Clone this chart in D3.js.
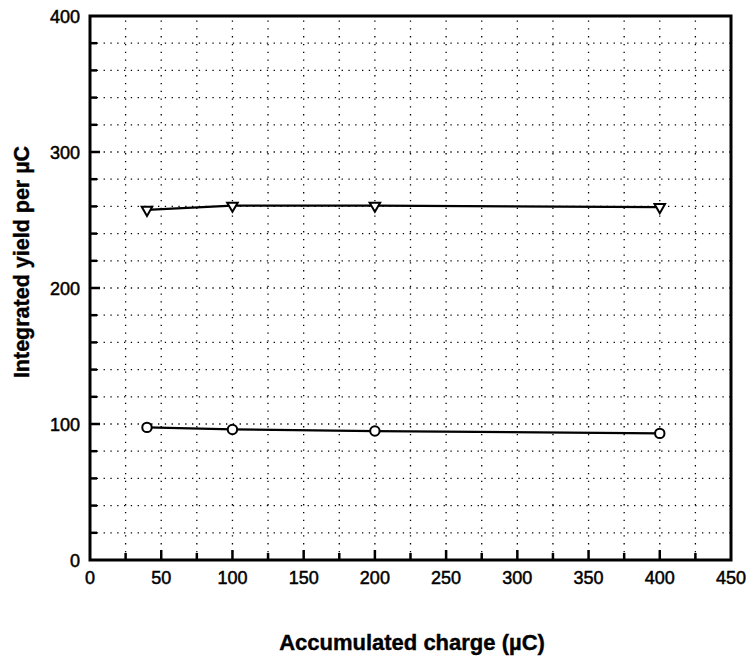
<!DOCTYPE html>
<html>
<head>
<meta charset="utf-8">
<script src="https://cdn.jsdelivr.net/npm/d3@7"></script>
<style>
  body { margin: 0; background: #fff; }
  text { font-family: "Liberation Sans", Arial, sans-serif; fill: #000; }
</style>
</head>
<body>
<script>
// chart data
var charge = [40, 100, 200, 400];
var yieldTriangle = [257.5, 260.5, 260.5, 259.5];
var yieldCircle = [97.5, 96, 94.8, 93.1];
var xTicks = [0, 50, 100, 150, 200, 250, 300, 350, 400, 450];
var yTicks = [0, 100, 200, 300, 400];

var width = 749, height = 657;
var m = {left: 90, right: 18, top: 16, bottom: 97};

var svg = d3.select("body").append("svg")
    .attr("width", width)
    .attr("height", height);

var x = d3.scaleLinear().domain([0, 450]).range([m.left, width - m.right]);
var y = d3.scaleLinear().domain([0, 400]).range([height - m.bottom, m.top]);

// dotted grid
var g = svg.append("g");
g.selectAll("line.vg")
    .data(d3.range(25, 450, 25))
    .enter().append("line")
    .attr("x1", function (d) { return x(d); })
    .attr("x2", function (d) { return x(d); })
    .attr("y1", y(0))
    .attr("y2", y(400))
    .attr("stroke", "#000")
    .attr("stroke-width", 1.3)
    .attr("stroke-dasharray", "1.3,6.5");
g.selectAll("line.hg")
    .data(d3.range(20, 400, 20))
    .enter().append("line")
    .attr("y1", function (d) { return y(d); })
    .attr("y2", function (d) { return y(d); })
    .attr("x1", x(0))
    .attr("x2", x(450))
    .attr("stroke", "#000")
    .attr("stroke-width", 1.3)
    .attr("stroke-dasharray", "1.3,5.5");

// inward ticks
svg.selectAll("line.xt")
    .data(d3.range(25, 450, 25))
    .enter().append("line")
    .attr("x1", function (d) { return x(d); })
    .attr("x2", function (d) { return x(d); })
    .attr("y1", y(0))
    .attr("y2", function (d) { return y(0) - (d % 50 === 0 ? 10 : 7); })
    .attr("stroke", "#000")
    .attr("stroke-width", 2.5);
svg.selectAll("line.yt")
    .data(d3.range(20, 400, 20))
    .enter().append("line")
    .attr("y1", function (d) { return y(d); })
    .attr("y2", function (d) { return y(d); })
    .attr("x1", x(0))
    .attr("x2", function (d) { return x(0) + (d % 100 === 0 ? 10 : 7); })
    .attr("stroke", "#000")
    .attr("stroke-width", 2.5);

// frame
svg.append("rect")
    .attr("x", x(0))
    .attr("y", y(400))
    .attr("width", x(450) - x(0))
    .attr("height", y(0) - y(400))
    .attr("fill", "none")
    .attr("stroke", "#000")
    .attr("stroke-width", 3);

// tick labels
svg.selectAll("text.xl")
    .data(xTicks)
    .enter().append("text")
    .attr("x", function (d) { return x(d); })
    .attr("y", y(0) + 24)
    .attr("text-anchor", "middle")
    .attr("font-size", 18)
    .attr("stroke", "#000")
    .attr("stroke-width", 0.5)
    .text(function (d) { return d; });
svg.selectAll("text.yl")
    .data(yTicks)
    .enter().append("text")
    .attr("x", x(0) - 10)
    .attr("y", function (d) { return y(d) + 6.5; })
    .attr("text-anchor", "end")
    .attr("font-size", 18)
    .attr("stroke", "#000")
    .attr("stroke-width", 0.5)
    .text(function (d) { return d; });

// axis titles
svg.append("text")
    .attr("x", 412)
    .attr("y", 650)
    .attr("text-anchor", "middle")
    .attr("font-size", 22)
    .attr("font-weight", "bold")
    .attr("stroke", "#000")
    .attr("stroke-width", 0.4)
    .text("Accumulated charge (\u00b5C)");
svg.append("text")
    .attr("transform", "translate(29,262) rotate(-90)")
    .attr("text-anchor", "middle")
    .attr("font-size", 21.5)
    .attr("font-weight", "bold")
    .attr("stroke", "#000")
    .attr("stroke-width", 0.4)
    .text("Integrated yield per \u00b5C");

// series
var line = d3.line()
    .x(function (d) { return x(d[0]); })
    .y(function (d) { return y(d[1]); });

var triData = d3.zip(charge, yieldTriangle);
var cirData = d3.zip(charge, yieldCircle);

[triData, cirData].forEach(function (data) {
    svg.append("path")
        .datum(data)
        .attr("d", line)
        .attr("fill", "none")
        .attr("stroke", "#000")
        .attr("stroke-width", 2.3);
});

var tri = d3.symbol().type(d3.symbolTriangle).size(48);
svg.selectAll("path.tri")
    .data(triData)
    .enter().append("path")
    .attr("d", tri)
    .attr("transform", function (d) {
        return "translate(" + x(d[0]) + "," + y(d[1]) + ") rotate(180)";
    })
    .attr("fill", "#fff")
    .attr("stroke", "#000")
    .attr("stroke-width", 2);

svg.selectAll("circle.pt")
    .data(cirData)
    .enter().append("circle")
    .attr("cx", function (d) { return x(d[0]); })
    .attr("cy", function (d) { return y(d[1]); })
    .attr("r", 4.7)
    .attr("fill", "#fff")
    .attr("stroke", "#000")
    .attr("stroke-width", 2);
</script>
</body>
</html>
